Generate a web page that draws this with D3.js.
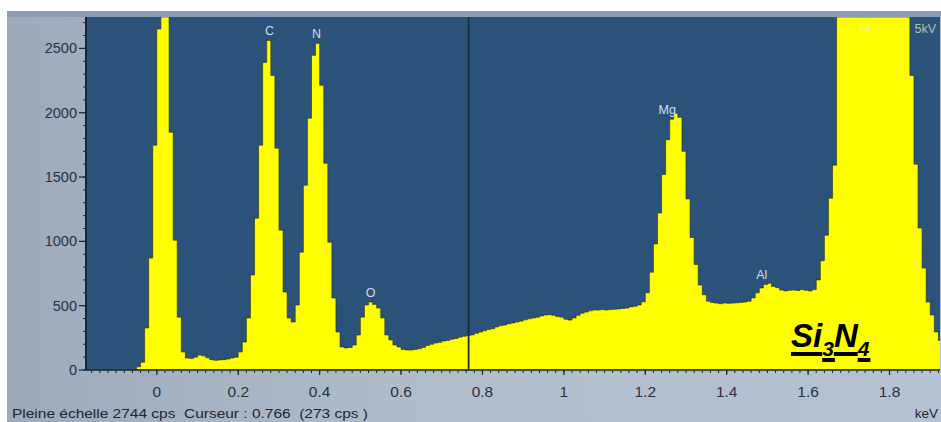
<!DOCTYPE html>
<html>
<head>
<meta charset="utf-8">
<script src="https://cdn.jsdelivr.net/npm/d3@7"></script>
<style>
  html, body { margin: 0; padding: 0; background: #ffffff; }
  svg { display: block; }
  text { font-family: Arial, "Liberation Sans", sans-serif; }
</style>
</head>
<body>
<svg id="chart" width="941" height="422"></svg>
<script>
// EDS spectrum of Si3N4 — counts per 10 eV channel, first channel starts at -0.05 keV
const channelStart = -0.05;
const channelWidth = 0.01;
const counts = [
  25, 60, 326, 870, 1747, 2650, 2744, 2744, 1848, 1009,
  411, 140, 93, 90, 100, 116, 110, 95, 80, 75,
  78, 80, 85, 93, 100, 140, 217, 404, 738, 1180,
  1747, 2391, 2562, 2290, 1724, 1087, 606, 404, 373, 505,
  916, 1436, 1957, 2446, 2539, 2213, 1607, 994, 559, 295,
  179, 171, 175, 194, 272, 411, 505, 528, 510, 481,
  404, 272, 233, 194, 179, 160, 155, 155, 160, 165,
  175, 190, 200, 210, 215, 225, 230, 240, 245, 255,
  262, 268, 273, 285, 295, 305, 315, 320, 335, 345,
  350, 360, 365, 373, 380, 390, 398, 404, 410, 420,
  427, 430, 425, 415, 411, 395, 388, 405, 425, 442,
  450, 460, 466, 466, 470, 466, 470, 472, 475, 478,
  481, 490, 495, 505, 530, 600, 760, 980, 1220, 1520,
  1790, 1950, 1995, 1964, 1700, 1330, 1030, 820, 660, 585,
  535, 525, 520, 515, 520, 518, 520, 522, 525, 528,
  535, 560, 600, 637, 665, 675, 650, 640, 621, 615,
  620, 621, 618, 625, 620, 615, 625, 700, 850, 1048,
  1335, 1592, 2744, 2744, 2744, 2744, 2744, 2744, 2744, 2744,
  2744, 2744, 2744, 2744, 2744, 2744, 2744, 2744, 2744, 2744,
  2290, 1600, 1103, 792, 528, 427, 295, 230
];

// Element lines (keV) and their labels
const elements = ["C", "N", "O", "Mg", "Al", "Si"];
const elementEnergies = [0.277, 0.392, 0.525, 1.254, 1.486, 1.740];

// Axis ticks
const xTickValues = [0, 0.2, 0.4, 0.6, 0.8, 1, 1.2, 1.4, 1.6, 1.8];
const xTickLabels = ["0", "0.2", "0.4", "0.6", "0.8", "1", "1.2", "1.4", "1.6", "1.8"];
const yTickValues = [0, 500, 1000, 1500, 2000, 2500];
const yTickLabels = ["0", "500", "1000", "1500", "2000", "2500"];

// Acquisition info
const fullScale = 2744;
const cursorEnergy = 0.766;
const cursorCounts = 273;
const voltageLabel = "5kV";
const sampleName = ["Si", "3", "N", "4"];

const svg = d3.select("#chart");
const W = 941, H = 422;
const plot = { left: 86, right: 940, top: 17, bottom: 370 };

const x = d3.scaleLinear().domain([-0.174, 1.924]).range([plot.left, plot.right]);
const y = d3.scaleLinear().domain([0, fullScale]).range([plot.bottom, plot.top]);

// Panel background
const defs = svg.append("defs");
const grad = defs.append("linearGradient").attr("id", "panelGrad")
  .attr("x1", "0").attr("y1", "0").attr("x2", "1").attr("y2", "0");
grad.append("stop").attr("offset", "0").attr("stop-color", "#9ea9b9");
grad.append("stop").attr("offset", "0.45").attr("stop-color", "#b2bdcc");
grad.append("stop").attr("offset", "1").attr("stop-color", "#b6c1d1");

svg.append("rect").attr("x", 7).attr("y", 11).attr("width", W - 7).attr("height", H - 11)
  .attr("fill", "url(#panelGrad)");
svg.append("rect").attr("x", 7).attr("y", 11).attr("width", W - 7).attr("height", plot.top - 11)
  .attr("fill", "#8d9cb3");

defs.append("clipPath").attr("id", "plotClip").append("rect")
  .attr("x", plot.left).attr("y", plot.top)
  .attr("width", plot.right - plot.left).attr("height", plot.bottom - plot.top);

// Plot background
svg.append("rect").attr("x", plot.left).attr("y", plot.top)
  .attr("width", plot.right - plot.left).attr("height", plot.bottom - plot.top)
  .attr("fill", "#2b5379");

// Spectrum as a step histogram
const bins = counts.map((c, i) => ({ e: channelStart + i * channelWidth, c }));
bins.push({ e: channelStart + counts.length * channelWidth, c: counts[counts.length - 1] });

const area = d3.area()
  .x(d => x(d.e))
  .y0(y(0))
  .y1(d => y(Math.min(d.c, fullScale)))
  .curve(d3.curveStepAfter);

const g = svg.append("g").attr("clip-path", "url(#plotClip)");
g.append("path").datum(bins)
  .attr("d", area)
  .attr("fill", "#ffff00")
  .attr("stroke", "rgba(30,40,25,0.55)")
  .attr("stroke-width", 1);

// Cursor line
g.append("line")
  .attr("x1", x(cursorEnergy)).attr("x2", x(cursorEnergy))
  .attr("y1", plot.top).attr("y2", plot.bottom)
  .attr("stroke", "#1b2c3e").attr("stroke-width", 1.8);

// Element labels above each peak
function countsAt(e) {
  const i = Math.floor((e - channelStart) / channelWidth);
  return d3.max(counts.slice(Math.max(0, i - 1), i + 2));
}
elements.forEach((el, k) => {
  const e = elementEnergies[k];
  const c = countsAt(e);
  const clipped = c >= fullScale;
  g.append("text")
    .attr("x", x(e))
    .attr("y", clipped ? y(fullScale) + 15 : y(c) - 5)
    .attr("text-anchor", "middle")
    .attr("font-size", 12.5)
    .attr("fill", clipped ? "#f2f2b0" : "#d2ddef")
    .text(el);
});

// Voltage
svg.append("text").attr("x", 936).attr("y", 33).attr("text-anchor", "end")
  .attr("font-size", 12.5).attr("fill", "#b4c3a6").text(voltageLabel);

// Y axis
const yAxis = svg.append("g");
yAxis.append("line").attr("x1", plot.left).attr("x2", plot.left)
  .attr("y1", plot.top).attr("y2", plot.bottom)
  .attr("stroke", "#1c2633").attr("stroke-width", 2);
yAxis.selectAll("line.minor").data(d3.range(0, fullScale, 100)).join("line")
  .attr("class", "minor")
  .attr("x1", plot.left - 3).attr("x2", plot.left)
  .attr("y1", d => y(d)).attr("y2", d => y(d))
  .attr("stroke", "#1c2633").attr("stroke-width", 1);
yAxis.selectAll("line.major").data(yTickValues).join("line")
  .attr("class", "major")
  .attr("x1", plot.left - 7).attr("x2", plot.left)
  .attr("y1", d => y(d)).attr("y2", d => y(d))
  .attr("stroke", "#1c2633").attr("stroke-width", 1.2);
yAxis.selectAll("text").data(yTickValues).join("text")
  .attr("x", plot.left - 9).attr("y", d => y(d))
  .attr("dy", "0.35em").attr("text-anchor", "end")
  .attr("font-size", 14.5).attr("fill", "#2b323d")
  .text((d, i) => yTickLabels[i]);

// X axis
const xAxis = svg.append("g");
xAxis.append("line").attr("x1", plot.left).attr("x2", plot.right)
  .attr("y1", plot.bottom).attr("y2", plot.bottom)
  .attr("stroke", "#1c2633").attr("stroke-width", 1.5);
const minorX = d3.range(-0.16, 1.93, 0.02);
xAxis.selectAll("line.minor").data(minorX).join("line")
  .attr("class", "minor")
  .attr("x1", d => x(d)).attr("x2", d => x(d))
  .attr("y1", plot.bottom).attr("y2", plot.bottom + 3)
  .attr("stroke", "#1c2633").attr("stroke-width", 1);
xAxis.selectAll("line.major").data(xTickValues).join("line")
  .attr("class", "major")
  .attr("x1", d => x(d)).attr("x2", d => x(d))
  .attr("y1", plot.bottom).attr("y2", plot.bottom + 5)
  .attr("stroke", "#1c2633").attr("stroke-width", 1.2);
xAxis.selectAll("text").data(xTickValues).join("text")
  .attr("x", d => x(d)).attr("y", 397)
  .attr("text-anchor", "middle")
  .attr("font-size", 15.5).attr("fill", "#2b323d")
  .text((d, i) => xTickLabels[i]);

// Status line and unit
svg.append("text").attr("x", 12).attr("y", 418)
  .attr("font-size", 13.5).attr("fill", "#1f2630")
  .style("white-space", "pre")
  .attr("textLength", 356).attr("lengthAdjust", "spacingAndGlyphs")
  .text(`Pleine échelle ${fullScale} cps  Curseur : ${cursorEnergy}  (${cursorCounts} cps )`);
svg.append("text").attr("x", 938).attr("y", 418).attr("text-anchor", "end")
  .attr("font-size", 13.5).attr("fill", "#1f2630").text("keV");

// Sample name, bold italic with underlined parts
const name = svg.append("g");
let cx = 791;
const baseY = 347;
sampleName.forEach((part, k) => {
  const sub = k % 2 === 1;
  const t = name.append("text")
    .attr("x", cx).attr("y", sub ? baseY + 9 : baseY)
    .attr("font-size", sub ? 21 : 33)
    .attr("font-weight", "bold").attr("font-style", "italic")
    .attr("fill", "#000").text(part);
  const w = t.node().getComputedTextLength();
  name.append("rect")
    .attr("x", cx).attr("y", sub ? 358 : 352)
    .attr("width", w + (sub ? 1 : 0)).attr("height", 4)
    .attr("fill", "#000");
  cx += w;
});
</script>
</body>
</html>
